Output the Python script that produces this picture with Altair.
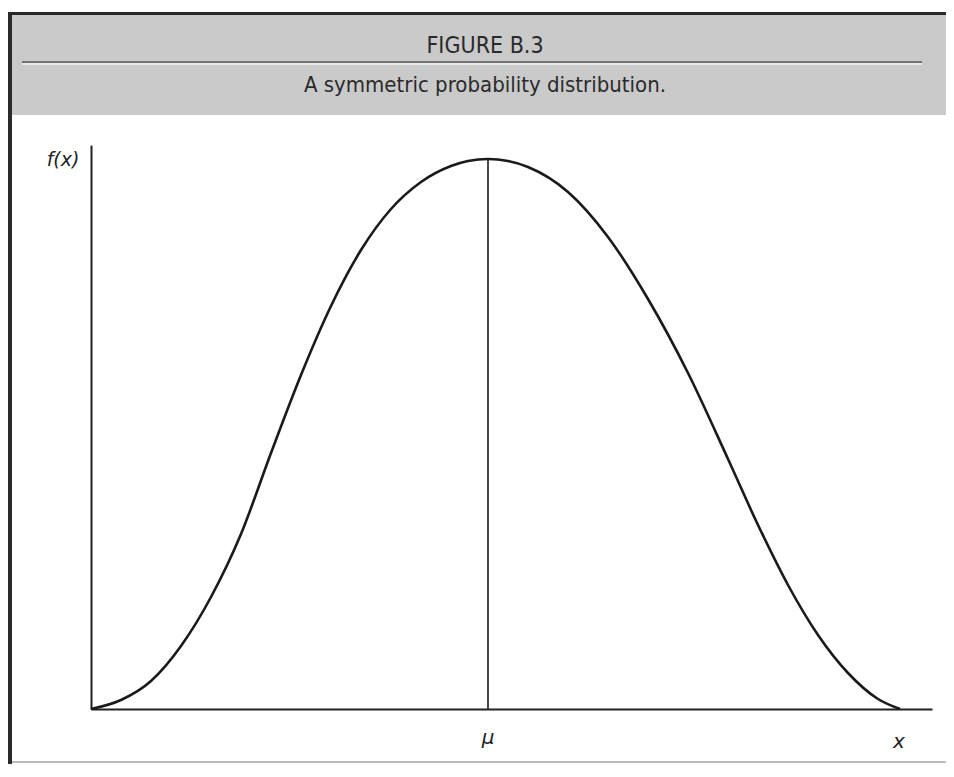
import altair as alt
import pandas as pd

# Curve (x: offset from y-axis, y: height above x-axis, in px-like units)
curve_x = [0, 30, 60, 90, 120, 150, 180, 210, 240, 270, 300, 330, 360, 377, 397,
           417, 437, 477, 517, 557, 597, 637, 667, 697, 727, 757, 787, 809]
curve_y = [0, 9, 28, 63, 112, 175, 256, 334, 403, 459, 500, 527, 543, 548, 550,
           548, 542, 517, 472, 410, 336, 250, 184, 124, 74, 36, 10, 0]
mu_x = 397
mu_y = 550
x_max = 841
y_max = 564

title_text = "FIGURE B.3"
subtitle_text = "A symmetric probability distribution."
y_label = "f(x)"
mu_label = "μ"
x_label = "x"

W, H = 841, 564
FONT = "Liberation Sans Narrow, DejaVu Sans Condensed, Open Sans, sans-serif"

df = pd.DataFrame({"x": curve_x, "y": curve_y})
mu_df = pd.DataFrame({"x": [mu_x], "y0": [0], "y1": [mu_y]})

xs = alt.Scale(domain=[0, x_max], nice=False, zero=False)
ys = alt.Scale(domain=[0, y_max], nice=False, zero=False)
noaxis = alt.Axis(domain=True, ticks=False, labels=False, grid=False, title=None,
                  domainColor="#222222", domainWidth=2)

one = pd.DataFrame({"a": [0]})
RIGHT = 855

# decorations (frame, header band)
band = alt.Chart(one).mark_rect(fill="#cacaca", strokeWidth=0).encode(
    x=alt.value(-79), x2=alt.value(RIGHT), y=alt.value(-130), y2=alt.value(-30))
top_border = alt.Chart(one).mark_rect(fill="#2a2a2a", strokeWidth=0).encode(
    x=alt.value(-86), x2=alt.value(RIGHT), y=alt.value(-133), y2=alt.value(-130))
left_border = alt.Chart(one).mark_rect(fill="#2a2a2a", strokeWidth=0).encode(
    x=alt.value(-83), x2=alt.value(-79), y=alt.value(-133), y2=alt.value(640))
bottom_line = alt.Chart(one).mark_rule(color="#bbbbbb", strokeWidth=2).encode(
    x=alt.value(-79), x2=alt.value(RIGHT), y=alt.value(617))
sep_dark = alt.Chart(one).mark_rule(color="#555555", strokeWidth=1.5).encode(
    x=alt.value(-69), x2=alt.value(831), y=alt.value(-83))
sep_light = alt.Chart(one).mark_rule(color="#f2f2f2", strokeWidth=1.5).encode(
    x=alt.value(-69), x2=alt.value(831), y=alt.value(-81))

title = alt.Chart(one).mark_text(text=title_text, font=FONT, fontSize=23,
                                 color="#2a2a2a", align="center", baseline="middle").encode(
    x=alt.value(394), y=alt.value(-99))
subtitle = alt.Chart(one).mark_text(text=subtitle_text, font=FONT, fontSize=22,
                                    color="#2a2a2a", align="center", baseline="middle").encode(
    x=alt.value(394), y=alt.value(-60))

fx = alt.Chart(one).mark_text(text=y_label, font="DejaVu Sans, sans-serif", fontSize=19,
                              fontStyle="italic", color="#222222", align="center",
                              baseline="middle").encode(x=alt.value(-28), y=alt.value(15))
mu_t = alt.Chart(one).mark_text(text=mu_label, font="DejaVu Sans, sans-serif", fontSize=20,
                                fontStyle="italic", color="#222222", align="center",
                                baseline="middle").encode(x=alt.value(397), y=alt.value(29 + H))
x_t = alt.Chart(one).mark_text(text=x_label, font="DejaVu Sans, sans-serif", fontSize=20,
                               fontStyle="italic", color="#222222", align="center",
                               baseline="middle").encode(x=alt.value(808), y=alt.value(33 + H))

line = alt.Chart(df).mark_line(color="#1a1a1a", strokeWidth=2.6, interpolate="monotone").encode(
    x=alt.X("x:Q", scale=xs, axis=noaxis),
    y=alt.Y("y:Q", scale=ys, axis=noaxis),
)
mu_rule = alt.Chart(mu_df).mark_rule(color="#1a1a1a", strokeWidth=1.6).encode(
    x=alt.X("x:Q", scale=xs),
    y=alt.Y("y0:Q", scale=ys),
    y2="y1:Q",
)

chart = alt.layer(
    band, top_border, left_border, bottom_line, sep_dark, sep_light, title, subtitle,
    line, mu_rule, fx, mu_t, x_t,
).properties(
    width=W, height=H,
    autosize=alt.AutoSizeParams(type="none"),
    padding={"left": 83, "top": 137, "right": 14, "bottom": 55},
    background="white",
).configure_view(stroke=None)

chart.save("out.html", embed_options={"renderer": "svg", "actions": False})
